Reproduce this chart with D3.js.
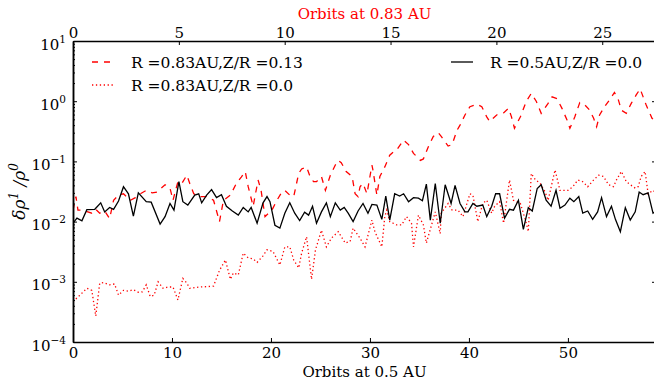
<!DOCTYPE html>
<html>
<head>
<meta charset="utf-8">
<script src="https://cdn.jsdelivr.net/npm/d3@7"></script>
<style>
  body { margin: 0; background: #fff; }
  svg text { font-family: "DejaVu Serif", serif; }
</style>
</head>
<body>
<div id="chart"></div>
<script>
// data (orbits at 0.5 AU, delta rho / rho)
var dashOrbits = [0,0.3,0.5,1.0,1.9,2.3,2.7,3.2,3.7,4.1,4.6,5.1,5.8,6.3,6.8,7.4,8.0,8.5,9.3,9.8,10.1,10.6,11.0,11.5,11.8,12.2,12.8,13.5,14.2,14.8,15.2,15.9,16.5,17.0,17.4,17.7,18.2,18.7,19.0,19.4,20.1,20.6,21.1,21.4,21.9,22.3,22.8,23.1,23.6,23.9,24.3,24.6,25.1,25.5,26.0,26.5,26.8,27.1,27.6,28.2,28.5,28.8,29.0,29.3,29.7,30.2,30.3,30.7,31.0,31.5,32.0,32.4,32.7,33.4,33.9,34.4,35.1,35.4,35.9,36.4,36.9,37.2,37.9,38.3,38.8,39.1,39.6,40.1,40.8,41.3,41.8,42.1,42.8,43.5,44.0,44.3,44.6,45.2,45.8,46.3,46.8,47.3,48.0,48.4,48.9,49.4,49.9,50.2,50.7,51.2,51.7,52.2,52.6,52.9,53.2,53.7,54.2,54.7,55.1,55.4,55.9,56.4,56.9,57.3,57.6,57.9,58.5,58.9];
var dashValues = [0.0155,0.026,0.0155,0.0155,0.0138,0.016,0.0138,0.015,0.0112,0.0226,0.0275,0.029,0.0226,0.025,0.029,0.033,0.030,0.031,0.041,0.036,0.0226,0.046,0.043,0.059,0.043,0.029,0.026,0.026,0.0226,0.010,0.0226,0.0275,0.043,0.055,0.068,0.038,0.018,0.049,0.033,0.0121,0.0155,0.0226,0.031,0.033,0.0275,0.026,0.063,0.075,0.081,0.059,0.046,0.046,0.056,0.033,0.059,0.087,0.104,0.095,0.068,0.056,0.029,0.026,0.038,0.043,0.029,0.087,0.072,0.0275,0.056,0.081,0.127,0.145,0.155,0.226,0.19,0.136,0.104,0.11,0.175,0.26,0.30,0.26,0.18,0.19,0.33,0.40,0.59,0.81,0.89,0.81,0.55,0.46,0.59,0.64,0.76,0.55,0.355,0.55,1.0,1.35,1.0,0.63,0.92,1.18,1.1,0.76,0.49,0.355,0.55,0.95,0.87,0.71,0.52,0.375,0.59,0.81,1.05,1.4,1.05,0.71,0.63,0.92,1.27,1.6,1.18,0.87,0.52,0.45];

var dotOrbits = [0,0.7,1.4,1.9,2.3,2.7,3.1,3.7,4.2,4.6,5.1,5.6,6.1,6.6,7.0,7.4,7.8,8.2,8.6,9.1,9.6,10.1,10.6,11.1,11.5,11.8,12.3,12.8,13.5,14.2,14.8,15.4,15.9,16.2,16.7,17.2,17.7,18.2,18.6,19.2,19.6,20.2,20.9,21.4,21.9,22.3,22.8,23.1,23.6,24.1,24.5,25.1,25.6,26.1,26.8,27.5,28.0,28.3,29.0,29.5,30.2,30.5,31.2,31.5,31.7,32.0,32.7,33.2,33.7,34.2,34.4,34.9,35.4,35.7,36.6,37.1,37.2,37.9,38.3,38.9,39.4,40.1,40.4,40.9,41.4,41.8,42.3,42.6,43.1,43.5,44.1,44.5,45.2,45.8,46.0,46.3,46.7,47.2,47.7,48.0,48.7,49.2,50.0,50.5,51.0,51.5,52.0,52.6,53.1,53.6,54.1,54.6,54.9,55.4,55.9,56.3,56.8,57.1,57.4,57.8,58.1,58.6,58.9];
var dotValues = [0.00047,0.0006,0.00078,0.00072,0.00027,0.00095,0.00097,0.00089,0.00092,0.0006,0.00072,0.0007,0.00074,0.00067,0.00068,0.00089,0.00057,0.0006,0.001,0.00078,0.00082,0.00082,0.0005,0.00114,0.00095,0.00078,0.0008,0.00082,0.00083,0.00085,0.00155,0.0023,0.0011,0.0014,0.0013,0.0030,0.0025,0.0024,0.0021,0.0027,0.0034,0.0032,0.0019,0.0038,0.0038,0.0023,0.0017,0.003,0.0056,0.0011,0.0034,0.0072,0.0038,0.0053,0.0068,0.0044,0.0047,0.0078,0.0053,0.0038,0.0106,0.0068,0.0038,0.0121,0.0155,0.010,0.0088,0.0088,0.0121,0.0094,0.0038,0.0128,0.0088,0.0044,0.0145,0.0063,0.0138,0.020,0.0155,0.0155,0.0121,0.029,0.0275,0.010,0.020,0.0226,0.0138,0.018,0.0214,0.0094,0.049,0.0226,0.020,0.0094,0.0068,0.063,0.05,0.043,0.031,0.0226,0.072,0.033,0.033,0.038,0.049,0.046,0.038,0.049,0.059,0.056,0.041,0.038,0.049,0.068,0.046,0.041,0.036,0.038,0.056,0.068,0.029,0.033,0.03];

var solidOrbits = [0,0.4,0.9,1.4,2.2,2.8,3.2,3.7,4.1,4.6,5.1,5.6,6.1,6.6,7.4,7.9,8.8,9.3,9.8,10.2,10.7,11.1,11.6,12.3,12.7,13.0,13.5,14.0,14.5,15.0,15.5,16.1,16.7,17.2,17.7,18.0,18.6,19.2,19.6,19.9,20.4,20.9,21.4,21.9,22.4,22.9,23.4,23.8,24.2,24.6,25.1,25.6,26.0,26.5,27.0,27.4,27.8,28.3,28.8,29.3,29.8,30.2,30.7,31.2,31.6,32.0,32.5,33.0,33.4,33.9,34.4,34.9,35.3,35.7,36.1,36.6,37.1,37.6,38.2,38.6,39.1,39.6,39.9,40.4,40.8,41.4,41.8,42.3,42.7,43.1,43.6,44.1,44.5,45.0,45.5,46.0,46.4,46.9,47.3,47.8,48.3,48.8,49.2,49.7,50.2,50.6,51.1,51.5,52.0,52.5,53.0,53.4,53.9,54.4,54.8,55.3,55.8,56.3,56.8,57.2,57.6,58.1,58.6,58.9];
var solidValues = [0.0094,0.0114,0.0103,0.0158,0.016,0.0205,0.0145,0.0172,0.016,0.022,0.038,0.029,0.0123,0.030,0.0214,0.021,0.0091,0.0121,0.020,0.0155,0.046,0.0214,0.0188,0.0275,0.029,0.0205,0.0275,0.034,0.025,0.028,0.018,0.015,0.0128,0.0172,0.0145,0.0172,0.0094,0.0205,0.026,0.0214,0.0087,0.0078,0.0138,0.0205,0.0138,0.0104,0.0143,0.0128,0.018,0.0094,0.0145,0.0205,0.0121,0.0205,0.0155,0.0172,0.0138,0.010,0.015,0.020,0.0138,0.0193,0.0188,0.0109,0.0265,0.0106,0.029,0.0265,0.029,0.0214,0.025,0.0245,0.0222,0.042,0.0106,0.043,0.0094,0.041,0.020,0.040,0.020,0.0145,0.0145,0.020,0.018,0.0188,0.0121,0.018,0.029,0.029,0.0114,0.016,0.0155,0.0226,0.0074,0.017,0.015,0.0355,0.041,0.0226,0.018,0.033,0.0167,0.0188,0.0245,0.0214,0.026,0.0138,0.015,0.0109,0.0145,0.025,0.0121,0.018,0.0109,0.0068,0.017,0.0106,0.0145,0.031,0.028,0.030,0.0138,0.015];

var bottomTicks = [0, 10, 20, 30, 40, 50];
var topTicks = [0, 5, 10, 15, 20, 25];
var decades = [-4, -3, -2, -1, 0, 1];

// plot box
var box = {left: 73, right: 656, top: 41, bottom: 342};
var maxOrbit = 58.9;
var orbitRatio = Math.pow(0.5 / 0.83, 1.5); // orbits at 0.83 AU per orbit at 0.5 AU

var svg = d3.select("#chart").append("svg")
    .attr("width", 654)
    .attr("height", 383);

var x = d3.scaleLinear().domain([0, maxOrbit]).range([box.left, box.right]);
var xTop = d3.scaleLinear().domain([0, maxOrbit * orbitRatio]).range([box.left, box.right]);
var y = d3.scaleLog().domain([1e-4, 10]).range([box.bottom, box.top]);

// minor log ticks
var minors = [];
decades.slice(0, -1).forEach(function(e) {
  for (var k = 2; k < 10; k++) minors.push(k * Math.pow(10, e));
});
var majors = decades.map(function(e) { return Math.pow(10, e); });

svg.append("clipPath").attr("id", "clip")
   .append("rect").attr("x", box.left).attr("y", box.top)
   .attr("width", box.right - box.left).attr("height", box.bottom - box.top);

var line = d3.line()
    .x(function(d) { return x(d[0]); })
    .y(function(d) { return y(d[1]); });

function pairs(ts, vs) { return ts.map(function(t, i) { return [t, vs[i]]; }); }

var plot = svg.append("g").attr("clip-path", "url(#clip)");

plot.append("path")
    .datum(pairs(dashOrbits, dashValues))
    .attr("d", line)
    .attr("fill", "none").attr("stroke", "#ff0000").attr("stroke-width", 1.3)
    .attr("stroke-dasharray", "6,6");

plot.append("path")
    .datum(pairs(dotOrbits, dotValues))
    .attr("d", line)
    .attr("fill", "none").attr("stroke", "#ff0000").attr("stroke-width", 1.3)
    .attr("stroke-dasharray", "1.3,2.6");

plot.append("path")
    .datum(pairs(solidOrbits, solidValues))
    .attr("d", line)
    .attr("fill", "none").attr("stroke", "#000").attr("stroke-width", 1.3);

// axes
function styleAxis(g) {
  g.select(".domain").attr("stroke", "#000").attr("stroke-width", 1.5);
  g.selectAll(".tick line").attr("stroke", "#000").attr("stroke-width", 1);
  g.selectAll(".tick text").attr("font-family", "DejaVu Serif").attr("font-size", 15).attr("fill", "#000");
}

svg.append("g")
   .attr("transform", "translate(0," + box.bottom + ")")
   .call(d3.axisBottom(x).tickValues(bottomTicks).tickSize(-4).tickSizeOuter(0).tickPadding(5.5))
   .call(styleAxis);

svg.append("g")
   .attr("transform", "translate(0," + box.top + ")")
   .call(d3.axisTop(xTop).tickValues(topTicks).tickSize(-4).tickSizeOuter(0).tickPadding(3.5))
   .call(styleAxis);

svg.append("g")
   .attr("transform", "translate(" + box.left + ",0)")
   .call(d3.axisLeft(y).tickValues(minors).tickSize(-2).tickSizeOuter(0).tickFormat(""))
   .call(styleAxis);

var yAxis = svg.append("g")
   .attr("transform", "translate(" + box.left + ",0)")
   .call(d3.axisLeft(y).tickValues(majors).tickSize(-4).tickSizeOuter(0).tickFormat(""))
   .call(styleAxis);

svg.append("g")
   .attr("transform", "translate(" + box.right + ",0)")
   .call(d3.axisRight(y).tickValues(minors).tickSize(-2).tickSizeOuter(0).tickFormat(""))
   .call(styleAxis);

svg.append("g")
   .attr("transform", "translate(" + box.right + ",0)")
   .call(d3.axisRight(y).tickValues(majors).tickSize(-4).tickSizeOuter(0).tickFormat(""))
   .call(styleAxis);

// 10^n labels
yAxis.selectAll(".tick").each(function(d) {
  var e = Math.round(Math.log10(d));
  var t = d3.select(this).select("text")
      .attr("x", -7).attr("dy", null).attr("y", 8)
      .attr("text-anchor", "end");
  t.append("tspan").text("10");
  t.append("tspan").attr("font-size", 10.5).attr("dy", -7)
   .text(e < 0 ? "\u2212" + (-e) : String(e));
});

// axis titles
svg.append("text")
   .attr("x", (box.left + box.right) / 2).attr("y", 19)
   .attr("text-anchor", "middle")
   .attr("font-family", "DejaVu Sans").attr("font-size", 15)
   .attr("fill", "#ff0000")
   .text("Orbits at 0.83 AU");

svg.append("text")
   .attr("x", (box.left + box.right) / 2).attr("y", 377)
   .attr("text-anchor", "middle")
   .attr("font-size", 15)
   .text("Orbits at 0.5 AU");

var yl = svg.append("text")
   .attr("transform", "translate(25," + (box.top + box.bottom) / 2 + ") rotate(-90)")
   .attr("text-anchor", "middle")
   .attr("font-family", "DejaVu Sans").attr("font-style", "italic")
   .attr("font-size", 17);
yl.append("tspan").text("\u03b4\u03c1");
yl.append("tspan").attr("font-size", 12).attr("dy", -7).text("1");
yl.append("tspan").attr("dy", 7).text(" /\u03c1");
yl.append("tspan").attr("font-size", 12).attr("dy", -7).text("0");

// legends
var legendItems = [
  {x: 92, y: 62, text: "R =0.83AU,Z/R =0.13", color: "#ff0000", dash: "6,6"},
  {x: 92, y: 85, text: "R =0.83AU,Z/R =0.0", color: "#ff0000", dash: "1.3,2.6"},
  {x: 451, y: 62, text: "R =0.5AU,Z/R =0.0", color: "#000", dash: null}
];

legendItems.forEach(function(d) {
  svg.append("line")
     .attr("x1", d.x).attr("x2", d.x + 22)
     .attr("y1", d.y).attr("y2", d.y)
     .attr("stroke", d.color).attr("stroke-width", 1.3)
     .attr("stroke-dasharray", d.dash);
  svg.append("text")
     .attr("x", d.x + 39).attr("y", d.y + 5.5)
     .attr("font-size", 15.5)
     .text(d.text);
});
</script>
</body>
</html>
